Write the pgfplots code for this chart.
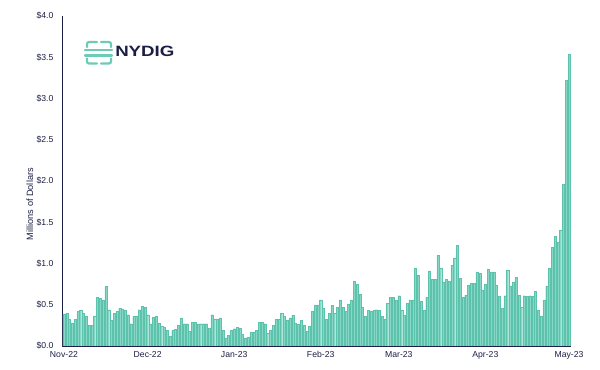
\documentclass[border=0pt]{standalone}
\usepackage{fontspec}
\setmainfont{Liberation Sans}
\usepackage{pgfplots}
\pgfplotsset{compat=1.18}
\usepackage{pgfplotstable}
\definecolor{barfill}{HTML}{86D7C6}
\definecolor{baredge}{HTML}{5DC2AC}
\definecolor{navy}{HTML}{1C1F45}
\definecolor{logoteal}{HTML}{6CCBB7}

\pgfplotstableread{
v
0.39
0.40
0.33
0.28
0.32
0.42
0.43
0.40
0.36
0.25
0.25
0.36
0.59
0.58
0.56
0.72
0.44
0.31
0.40
0.42
0.46
0.45
0.43
0.38
0.27
0.36
0.36
0.44
0.48
0.47
0.38
0.27
0.35
0.36
0.28
0.24
0.23
0.19
0.12
0.19
0.20
0.25
0.34
0.27
0.27
0.18
0.29
0.29
0.26
0.27
0.27
0.27
0.22
0.38
0.33
0.33
0.34
0.19
0.10
0.13
0.19
0.21
0.23
0.22
0.14
0.10
0.11
0.17
0.17
0.19
0.29
0.29
0.27
0.15
0.19
0.25
0.32
0.32
0.40
0.36
0.31
0.34
0.37
0.28
0.26
0.31
0.25
0.18
0.24
0.42
0.50
0.50
0.56
0.46
0.32
0.40
0.49
0.40
0.47
0.56
0.47
0.42
0.51
0.55
0.79
0.75
0.63
0.47
0.36
0.43
0.42
0.43
0.44
0.43
0.36
0.33
0.52
0.59
0.59
0.55
0.61
0.43
0.37
0.52
0.56
0.56
0.94
0.86
0.54
0.43
0.59
0.91
0.81
0.81
1.10
0.94
0.77
0.81
0.79
0.98
1.06
1.22
0.82
0.59
0.62
0.74
0.76
0.76
0.90
0.88
0.68
0.75
0.93
0.90
0.90
0.74
0.60
0.46
0.61
0.92
0.73
0.77
0.83
0.62
0.47
0.61
0.60
0.61
0.60
0.66
0.43
0.36
0.55
0.73
0.94
1.20
1.33
1.26
1.40
1.96
3.22
3.54
}\data

\begin{document}
\begin{tikzpicture}
\path[use as bounding box] (-62bp,-24bp) rectangle (538bp,346bp);
\begin{axis}[
  at={(0,0)}, anchor=south west,
  scale only axis, width=509bp, height=330bp,
  xmin=-0.7, xmax=181.7, ymin=0, ymax=4,
  axis lines=left,
  axis line style={navy, line width=1bp, -},
  ytick={0,0.5,1,1.5,2,2.5,3,3.5,4},
  yticklabels={\$0.0,\$0.5,\$1.0,\$1.5,\$2.0,\$2.5,\$3.0,\$3.5,\$4.0},
  xtick={0,30,61,92,120,151,181},
  xticklabels={Nov-22,Dec-22,Jan-23,Feb-23,Mar-23,Apr-23,May-23},
  major tick length=0pt,
  tick label style={font=\fontsize{8.7}{10}\selectfont, text=navy},
  yticklabel style={xshift=-5bp},
  xticklabel style={yshift=-1.5bp},
  ylabel={Millions of Dollars},
  ylabel style={at={(axis description cs:-0.063,0.43)}, anchor=center, font=\fontsize{9.2}{10}\selectfont, text=navy},
]
\addplot[ybar, bar width=2.1bp, bar shift=0pt, fill=barfill, draw=baredge, line width=0.3bp] table[x expr=\coordindex, y=v] {\data};
\end{axis}
% logo
\begin{scope}[logoteal, line width=2.2bp, line cap=round]
  \draw[rounded corners=2bp] (25bp,299bp) |- (35bp,304bp);
  \draw[rounded corners=2bp] (39bp,304bp) -| (49bp,299bp);
  \draw (23bp,296bp) -- (50bp,296bp);
  \draw (23bp,290.5bp) -- (50bp,290.5bp);
  \draw[rounded corners=2bp] (25bp,287.5bp) |- (35bp,282.5bp);
  \draw[rounded corners=2bp] (39bp,282.5bp) -| (49bp,287.5bp);
\end{scope}
\node[anchor=base west, inner sep=0pt, text=navy, font=\fontsize{15}{15}\bfseries\selectfont, xscale=1.25] at (53bp,289bp) {NYDIG};
\end{tikzpicture}
\end{document}
